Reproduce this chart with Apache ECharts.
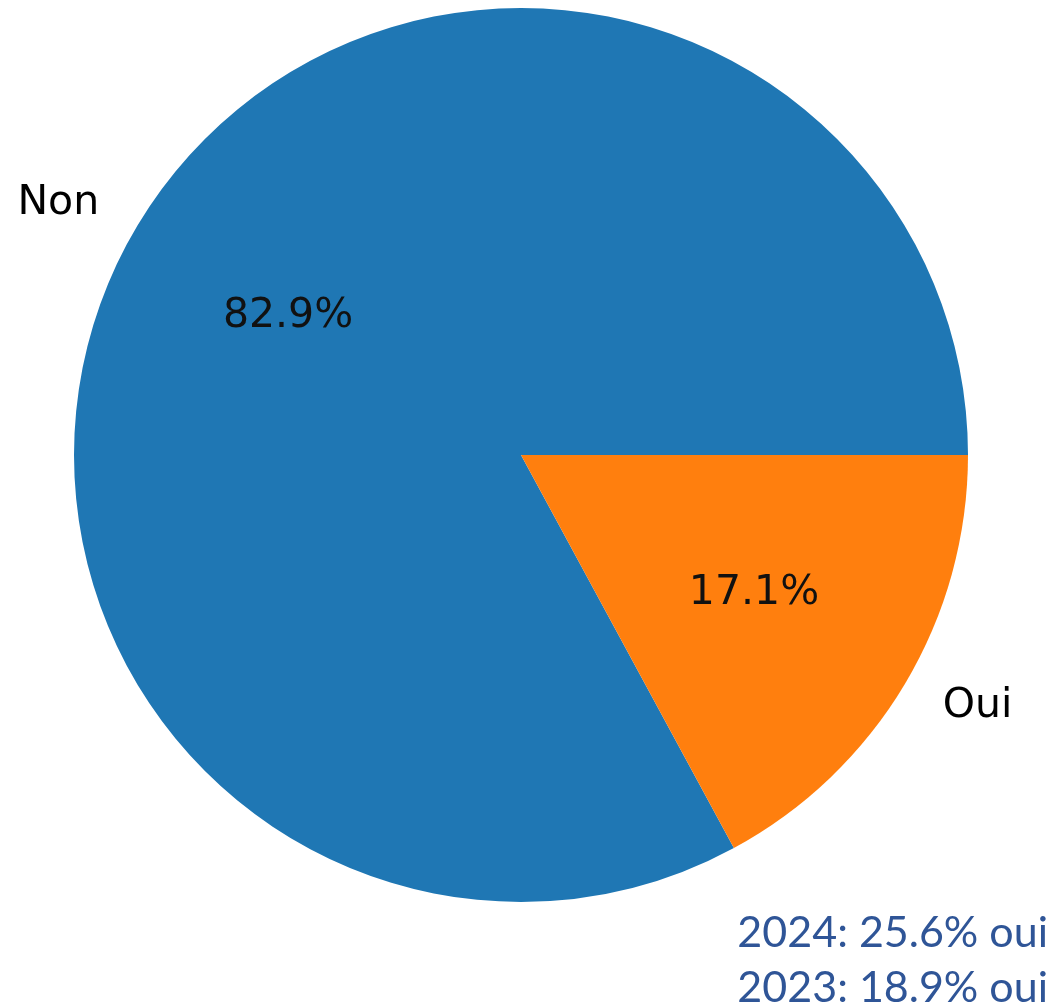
<!DOCTYPE html>
<html>
<head>
<meta charset="utf-8">
<script src="https://cdn.jsdelivr.net/npm/echarts@6/dist/echarts.min.js"></script>
<style>
html,body{margin:0;padding:0;background:#fff;}
#chart{width:1053px;height:1006px;}
</style>
</head>
<body>
<div id="chart"></div>
<script>
const categories = ['Non', 'Oui'];
const values = [82.9, 17.1];
const colors = ['#1f77b4', '#ff7f0e'];
const notes = ['2024: 25.6% oui', '2023: 18.9% oui'];

const chart = echarts.init(document.getElementById('chart'), null, {renderer: 'canvas'});
const R = 447;
const CX = 521, CY = 455;
const labelFont = '"DejaVu Sans", "Liberation Sans", sans-serif';

const mainData = categories.map((c, i) => ({
  name: c, value: values[i], itemStyle: {color: colors[i]}
}));
const pctData = categories.map((c, i) => ({
  name: c, value: values[i]
}));

chart.setOption({
  animation: false,
  series: [
    {
      type: 'pie',
      center: [CX, CY],
      radius: [0, R],
      startAngle: 0,
      clockwise: false,
      avoidLabelOverlap: false,
      silent: true,
      itemStyle: {borderWidth: 0},
      emphasis: {disabled: true},
      label: {
        show: true,
        position: 'outside',
        formatter: '{b}',
        fontFamily: labelFont,
        fontSize: 41,
        color: '#000',
        distanceToLabelLine: 0
      },
      labelLine: {show: false, length: 44, length2: 0},
      data: mainData
    },
    {
      type: 'pie',
      center: [CX, CY],
      radius: [0, R * 1.2],
      startAngle: 0,
      clockwise: false,
      avoidLabelOverlap: false,
      silent: true,
      emphasis: {disabled: true},
      itemStyle: {color: 'rgba(0,0,0,0)', borderWidth: 0},
      label: {
        show: true,
        position: 'inside',
        formatter: (p) => p.value.toFixed(1) + '%',
        fontFamily: labelFont,
        fontSize: 41,
        color: '#111'
      },
      labelLine: {show: false},
      data: pctData
    }
  ],
  graphic: notes.map((t, i) => ({
    type: 'text',
    right: 5,
    top: 912 + i * 55,
    style: {
      text: t,
      fontFamily: 'Lato',
      fontSize: 43,
      fill: '#2f5597'
    }
  }))
});
</script>
</body>
</html>
